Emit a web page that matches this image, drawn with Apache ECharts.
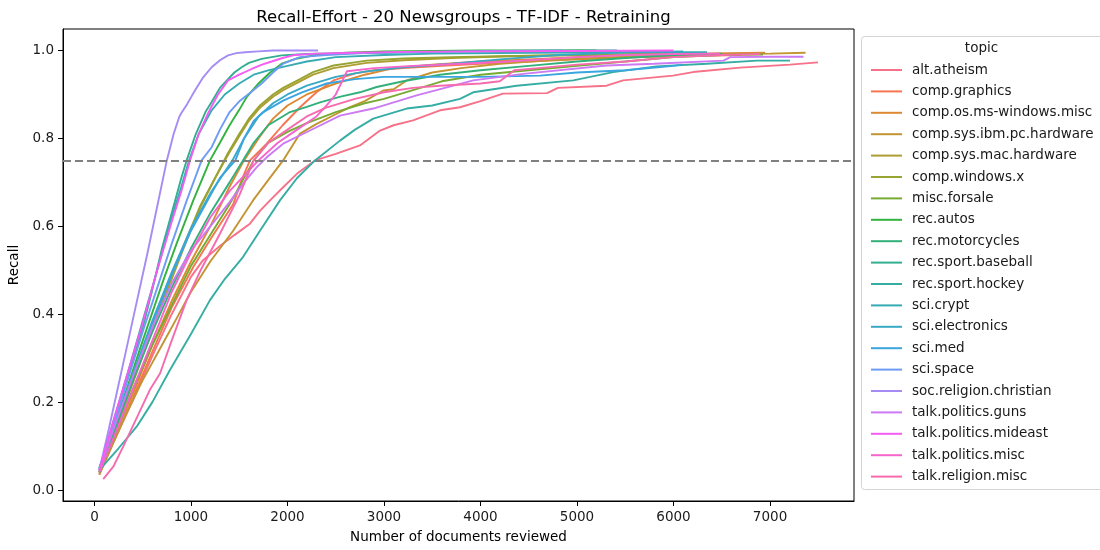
<!DOCTYPE html>
<html>
<head>
<meta charset="utf-8">
<script src="https://cdn.jsdelivr.net/npm/echarts@6/dist/echarts.min.js"></script>
<style>html,body{margin:0;padding:0;background:#fff}#c{width:1100px;height:550px}</style>
</head>
<body>
<div id="c"></div>
<script>
const topics = ['alt.atheism','comp.graphics','comp.os.ms-windows.misc','comp.sys.ibm.pc.hardware','comp.sys.mac.hardware','comp.windows.x','misc.forsale','rec.autos','rec.motorcycles','rec.sport.baseball','rec.sport.hockey','sci.crypt','sci.electronics','sci.med','sci.space','soc.religion.christian','talk.politics.guns','talk.politics.mideast','talk.politics.misc','talk.religion.misc'];
const colors = ['#f77189','#f7754f','#dc8932','#c39532','#ae9d31','#97a431','#77ab31','#31b33e','#33b07a','#34ae91','#36ada4','#37abb4','#38a9c5','#3aa5df','#6e9bf4','#a48cf4','#cc7af4','#f45cf2','#f565cc','#f66bad'];
const xTicks = [0,1000,2000,3000,4000,5000,6000,7000];
const yTicks = [0,0.2,0.4,0.6,0.8,1.0];
const targetRecall = 0.75;

const altAtheism = [[50,0.04],[200,0.11],[400,0.205],[600,0.305],[800,0.4],[1000,0.485],[1125,0.523],[1300,0.555],[1450,0.58],[1611,0.606],[1715,0.635],[1819,0.659],[1955,0.689],[2100,0.72],[2285,0.75],[2500,0.765],[2751,0.784],[2959,0.818],[3100,0.83],[3301,0.841],[3580,0.864],[3788,0.871],[4000,0.885],[4233,0.902],[4689,0.903],[4803,0.915],[5306,0.92],[5477,0.932],[5995,0.943],[6202,0.951],[6690,0.961],[7208,0.968],[7497,0.973]];
const compGraphics = [[50,0.035],[200,0.11],[400,0.21],[600,0.315],[800,0.415],[1022,0.507],[1200,0.57],[1437,0.65],[1525,0.705],[1611,0.75],[1785,0.788],[1950,0.83],[2130,0.871],[2300,0.905],[2477,0.932],[2700,0.948],[2900,0.955],[3200,0.96],[3600,0.965],[4000,0.97],[4500,0.975],[5000,0.98],[5500,0.984],[6000,0.987],[6700,0.99]];
const compOsMsWindows = [[50,0.04],[200,0.12],[400,0.22],[600,0.33],[800,0.43],[1000,0.52],[1200,0.6],[1400,0.69],[1550,0.75],[1700,0.8],[1850,0.845],[2000,0.875],[2200,0.9],[2500,0.925],[2800,0.945],[3100,0.96],[3500,0.968],[4000,0.975],[4500,0.98],[5000,0.985],[5500,0.99],[6200,0.993],[6950,0.995]];
const compSysIbm = [[50,0.035],[200,0.11],[333,0.175],[500,0.25],[700,0.33],[850,0.39],[990,0.447],[1200,0.52],[1437,0.59],[1643,0.659],[1800,0.705],[1955,0.75],[2130,0.811],[2302,0.833],[2500,0.855],[2648,0.871],[2800,0.885],[2993,0.909],[3100,0.912],[3235,0.932],[3500,0.95],[3800,0.96],[4200,0.97],[4700,0.978],[5200,0.983],[5800,0.988],[6400,0.991],[7000,0.993],[7368,0.995]];
const compSysMac = [[50,0.04],[200,0.125],[400,0.245],[600,0.365],[800,0.48],[950,0.565],[1100,0.645],[1250,0.71],[1390,0.765],[1500,0.805],[1600,0.84],[1715,0.87],[1850,0.895],[1955,0.91],[2130,0.93],[2265,0.945],[2477,0.96],[2820,0.972],[3200,0.978],[3700,0.983],[4300,0.987],[5000,0.99],[5900,0.992]];
const compWindowsX = [[50,0.045],[200,0.13],[400,0.25],[600,0.37],[782,0.477],[950,0.57],[1093,0.645],[1250,0.71],[1380,0.765],[1500,0.81],[1600,0.845],[1715,0.875],[1850,0.9],[1955,0.915],[2130,0.935],[2265,0.951],[2477,0.966],[2820,0.977],[3200,0.982],[3700,0.985],[4200,0.987],[5000,0.99],[5700,0.992],[6300,0.993]];
const miscForsale = [[50,0.04],[200,0.12],[400,0.23],[600,0.33],[800,0.42],[1000,0.51],[1200,0.58],[1400,0.65],[1650,0.75],[1800,0.79],[2000,0.815],[2200,0.835],[2500,0.86],[2800,0.88],[3000,0.89],[3300,0.91],[3600,0.93],[4000,0.945],[4500,0.955],[5000,0.965],[5500,0.975],[6000,0.985],[6500,0.99],[6928,0.991]];
const recAutos = [[50,0.045],[200,0.14],[350,0.24],[500,0.34],[713,0.477],[850,0.56],[1024,0.659],[1197,0.75],[1300,0.79],[1400,0.83],[1500,0.865],[1577,0.894],[1700,0.925],[1820,0.95],[1940,0.97],[2100,0.982],[2300,0.99],[2600,0.995],[3000,0.998],[4000,1.0],[5200,1.0]];
const recMotorcycles = [[50,0.04],[200,0.13],[400,0.25],[600,0.36],[800,0.46],[1000,0.55],[1200,0.63],[1400,0.7],[1539,0.75],[1650,0.79],[1800,0.83],[2026,0.86],[2200,0.872],[2337,0.882],[2550,0.895],[2751,0.905],[2924,0.917],[3200,0.93],[3580,0.945],[4000,0.955],[4500,0.965],[5000,0.975],[5500,0.983],[6000,0.99],[6500,0.993]];
const recSportBaseball = [[50,0.045],[200,0.15],[350,0.26],[500,0.37],[593,0.45],[700,0.55],[800,0.63],[900,0.71],[955,0.75],[1050,0.81],[1150,0.86],[1214,0.883],[1300,0.915],[1384,0.935],[1450,0.95],[1525,0.962],[1600,0.972],[1732,0.981],[1940,0.989],[2200,0.992],[2600,0.994],[3000,0.995],[3500,0.997],[4000,0.998],[4500,0.999],[5000,1.0],[5414,1.0]];
const recSportHockey = [[50,0.045],[250,0.095],[437,0.144],[600,0.2],[782,0.273],[1000,0.355],[1197,0.432],[1350,0.48],[1539,0.53],[1700,0.585],[1922,0.659],[2100,0.71],[2285,0.75],[2544,0.795],[2700,0.82],[2889,0.845],[3235,0.868],[3500,0.875],[3788,0.89],[3925,0.905],[4374,0.92],[4961,0.932],[5375,0.951],[5823,0.964],[6347,0.97],[6865,0.977],[7207,0.977]];
const sciCrypt = [[50,0.045],[200,0.16],[350,0.27],[500,0.385],[650,0.5],[800,0.62],[900,0.69],[980,0.75],[1080,0.81],[1214,0.864],[1350,0.9],[1500,0.925],[1650,0.945],[1800,0.955],[2000,0.965],[2200,0.975],[2500,0.985],[3000,0.99],[3500,0.993],[4500,0.995],[5500,0.996],[6347,0.996]];
const sciElectronics = [[50,0.05],[200,0.145],[400,0.265],[600,0.385],[800,0.495],[1000,0.595],[1200,0.675],[1430,0.75],[1550,0.8],[1700,0.85],[1850,0.88],[2000,0.9],[2200,0.92],[2500,0.94],[2800,0.952],[3200,0.962],[3700,0.97],[4200,0.98],[4800,0.99],[5500,0.996],[6100,0.998]];
const sciMed = [[50,0.05],[200,0.14],[400,0.26],[600,0.38],[800,0.49],[1000,0.59],[1200,0.67],[1300,0.71],[1460,0.75],[1550,0.8],[1650,0.84],[1750,0.86],[1955,0.886],[2150,0.905],[2406,0.925],[2700,0.935],[3000,0.94],[3500,0.94],[4000,0.94],[4616,0.943],[5000,0.95],[5500,0.955],[6000,0.965],[6088,0.968]];
const sciSpace = [[50,0.045],[200,0.15],[350,0.255],[500,0.36],[650,0.46],[800,0.56],[950,0.655],[1110,0.75],[1214,0.78],[1300,0.82],[1400,0.86],[1508,0.886],[1620,0.905],[1732,0.925],[1850,0.95],[1955,0.97],[2130,0.985],[2400,0.99],[2800,0.994],[3500,0.997],[4200,0.999],[4845,1.0]];
const socReligionChristian = [[50,0.045],[150,0.14],[250,0.24],[350,0.34],[450,0.44],[550,0.54],[650,0.645],[750,0.75],[820,0.81],[880,0.85],[907,0.86],[960,0.878],[1041,0.909],[1120,0.937],[1214,0.962],[1300,0.978],[1384,0.989],[1470,0.994],[1560,0.996],[1700,0.998],[1850,1.0],[2000,1.0],[2316,1.0]];
const talkPoliticsGuns = [[50,0.045],[200,0.14],[400,0.26],[600,0.37],[800,0.47],[1000,0.545],[1200,0.6],[1400,0.655],[1550,0.7],[1680,0.734],[1800,0.76],[1955,0.788],[2233,0.818],[2544,0.852],[2889,0.868],[3338,0.898],[3788,0.924],[3925,0.932],[4443,0.947],[5306,0.966],[5800,0.97],[6518,0.977],[6587,0.985],[7000,0.986],[7347,0.986]];
const talkPoliticsMideast = [[50,0.045],[200,0.16],[350,0.27],[500,0.38],[650,0.5],[800,0.61],[900,0.68],[990,0.75],[1080,0.81],[1176,0.857],[1280,0.9],[1384,0.932],[1500,0.945],[1629,0.958],[1736,0.968],[1836,0.975],[1950,0.983],[2078,0.99],[2300,0.993],[2700,0.995],[3200,0.997],[4000,0.998],[5000,0.999],[6000,1.0]];
const talkPoliticsMisc = [[50,0.04],[200,0.12],[400,0.23],[600,0.34],[800,0.45],[1000,0.54],[1200,0.62],[1400,0.68],[1700,0.75],[1900,0.79],[2100,0.82],[2300,0.85],[2406,0.875],[2500,0.9],[2617,0.953],[2900,0.96],[3300,0.965],[3800,0.97],[4300,0.975],[5000,0.985],[5500,0.99],[6000,0.992],[6482,0.993]];
const talkReligionMisc = [[91,0.025],[195,0.053],[300,0.1],[450,0.17],[579,0.23],[679,0.265],[800,0.34],[955,0.432],[1100,0.5],[1300,0.583],[1500,0.67],[1650,0.75],[1800,0.79],[2000,0.82],[2200,0.85],[2400,0.87],[2700,0.89],[3000,0.905],[3300,0.915],[3580,0.92],[4000,0.925],[4200,0.93],[4350,0.955],[4600,0.96],[5000,0.968],[5500,0.975],[6000,0.985],[6500,0.99],[6900,0.992]];

const seriesValues = [altAtheism,compGraphics,compOsMsWindows,compSysIbm,compSysMac,compWindowsX,miscForsale,recAutos,recMotorcycles,recSportBaseball,recSportHockey,sciCrypt,sciElectronics,sciMed,sciSpace,socReligionChristian,talkPoliticsGuns,talkPoliticsMideast,talkPoliticsMisc,talkReligionMisc];

const FONT = 'DejaVu Sans';
const chart = echarts.init(document.getElementById('c'), null, {renderer:'canvas'});
const series = topics.map((name, i) => ({
  name: name,
  type: 'line',
  data: seriesValues[i],
  showSymbol: false,
  symbol: 'none',
  color: colors[i],
  lineStyle: {width: 1.9, color: colors[i]},
  animation: false,
  silent: true
}));
series[series.length - 1].markLine = {
  silent: true,
  symbol: 'none',
  label: {show: false},
  lineStyle: {color: '#808080', type: [8, 4], width: 2},
  data: [{yAxis: targetRecall}],
  animation: false
};

chart.setOption({
  animation: false,
  backgroundColor: '#fff',
  textStyle: {fontFamily: FONT},
  title: {
    text: 'Recall-Effort - 20 Newsgroups - TF-IDF - Retraining',
    left: 458.5, top: 4, textAlign: 'center',
    textStyle: {fontFamily: FONT, fontSize: 16.5, fontWeight: 'normal', color: '#000'}
  },
  grid: {left: 63, right: 246, top: 29, bottom: 49, containLabel: false, outerBoundsMode: 'none',
    show: true, borderColor: '#000', borderWidth: 1, backgroundColor: 'transparent'},
  xAxis: {
    type: 'value', min: -326, max: 7870,
    name: 'Number of documents reviewed', nameLocation: 'middle', nameGap: 29,
    nameTextStyle: {fontFamily: FONT, fontSize: 13.5, color: '#000'},
    axisLine: {show: true, onZero: false, lineStyle: {color: '#000', width: 1}},
    axisTick: {show: true, length: 5, lineStyle: {color: '#000', width: 1}, customValues: xTicks},
    axisLabel: {fontFamily: FONT, fontSize: 13.5, color: '#1a1a1a', margin: 9, customValues: xTicks,
      formatter: v => String(v)},
    splitLine: {show: false}
  },
  yAxis: {
    type: 'value', min: -0.025, max: 1.049,
    name: 'Recall', nameLocation: 'middle', nameGap: 34,
    nameTextStyle: {fontFamily: FONT, fontSize: 13.5, color: '#000'},
    axisLine: {show: true, onZero: false, lineStyle: {color: '#000', width: 1}},
    axisTick: {show: true, length: 5, lineStyle: {color: '#000', width: 1}, customValues: yTicks},
    axisLabel: {fontFamily: FONT, fontSize: 13.5, color: '#1a1a1a', margin: 9, customValues: yTicks,
      formatter: v => v.toFixed(1)},
    splitLine: {show: false}
  },
  legend: {
    orient: 'vertical', left: 866, top: 57,
    data: topics,
    icon: 'rect', itemWidth: 31, itemHeight: 2, itemGap: 5.4,
    textStyle: {fontFamily: FONT, fontSize: 13.5, color: '#1a1a1a', lineHeight: 16, padding: [0,0,0,5]},
    selectedMode: false
  },
  graphic: [
    {type: 'rect', z: -1, shape: {x: 861.5, y: 36.5, width: 245, height: 453, r: 3},
      style: {fill: '#fff', stroke: '#d4d4d4', lineWidth: 1}},
    {type: 'text', x: 981.5, y: 48, style: {text: 'topic', align: 'center', verticalAlign: 'middle',
      fontFamily: FONT, fontSize: 13.5, fill: '#1a1a1a'}}
  ],
  series: series
});
</script>
</body>
</html>
